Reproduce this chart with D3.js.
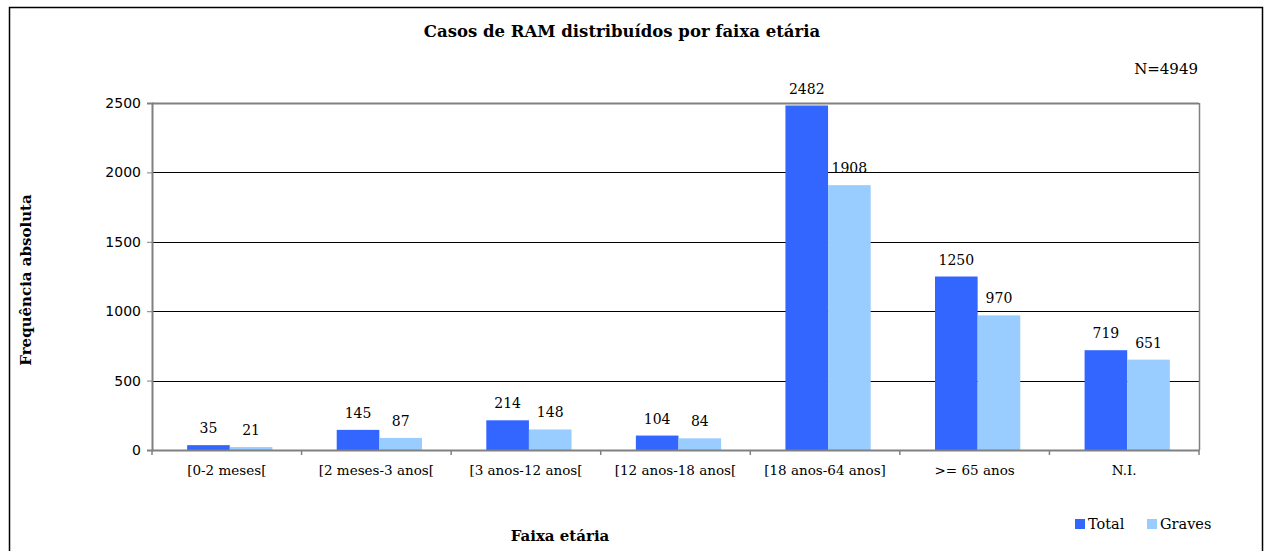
<!DOCTYPE html>
<html>
<head>
<meta charset="utf-8">
<script src="https://cdn.jsdelivr.net/npm/d3@7"></script>
<style>
  body { margin: 0; background: #fff; }
  svg text { font-family: "DejaVu Serif", "Liberation Serif", serif; fill: #000; }
</style>
</head>
<body>
<svg id="chart" width="1273" height="551"></svg>
<script>
// Faixas etárias e valores
const categories = ["[0-2 meses[", "[2 meses-3 anos[", "[3 anos-12 anos[", "[12 anos-18 anos[", "[18 anos-64 anos]", ">= 65 anos", "N.I."];
const totalValues = [35, 145, 214, 104, 2482, 1250, 719];
const gravesValues = [21, 87, 148, 84, 1908, 970, 651];
const seriesNames = ["Total", "Graves"];
const yTicks = [0, 500, 1000, 1500, 2000, 2500];

const colors = { Total: "#3366ff", Graves: "#99ccff" };

const svg = d3.select("#chart");
const margin = { top: 103, left: 152, right: 74, bottom: 101 };
const width = 1273 - margin.left - margin.right;
const height = 551 - margin.top - margin.bottom;

// outer frame
svg.append("rect")
   .attr("x", 9.5).attr("y", 7.5)
   .attr("width", 1253).attr("height", 560)
   .attr("fill", "none").attr("stroke", "#000").attr("stroke-width", 1.5);

const g = svg.append("g").attr("transform", "translate(" + margin.left + "," + margin.top + ")");

const x0 = d3.scaleBand().domain(categories).range([0, width]).paddingInner(0).paddingOuter(0);
const x1 = d3.scaleBand().domain(seriesNames).range([x0.bandwidth() * 0.235, x0.bandwidth() * 0.805]);
const y = d3.scaleLinear().domain([0, 2500]).range([height, 0]);

// gridlines
g.selectAll(".grid")
   .data(yTicks.filter(d => d > 0))
   .enter()
   .append("line")
   .attr("x1", 0).attr("x2", width)
   .attr("y1", d => Math.round(y(d)) + 0.5).attr("y2", d => Math.round(y(d)) + 0.5)
   .attr("stroke", d => d === 2500 ? "#808080" : "#000")
   .attr("stroke-width", d => d === 2500 ? 2 : 1);

// right border of plot
g.append("line")
   .attr("x1", width + 0.5).attr("x2", width + 0.5)
   .attr("y1", 0).attr("y2", height)
   .attr("stroke", "#808080").attr("stroke-width", 1.5);

// bars
const rows = categories.map((c, i) => ({ cat: c, values: [
   { key: "Total", value: totalValues[i] },
   { key: "Graves", value: gravesValues[i] }
]}));

const groups = g.selectAll(".group")
   .data(rows)
   .enter()
   .append("g")
   .attr("transform", d => "translate(" + x0(d.cat) + ",0)");

groups.selectAll("rect")
   .data(d => d.values)
   .enter()
   .append("rect")
   .attr("x", d => x1(d.key))
   .attr("y", d => y(d.value))
   .attr("width", x1.bandwidth())
   .attr("height", d => height - y(d.value))
   .attr("fill", d => colors[d.key]);

groups.selectAll(".lbl")
   .data(d => d.values)
   .enter()
   .append("text")
   .attr("x", d => x1(d.key) + x1.bandwidth() / 2)
   .attr("y", d => y(d.value) - 12)
   .attr("text-anchor", "middle")
   .style("font-size", "14px")
   .text(d => d.value);

// y axis
const yAxis = g.append("g")
   .call(d3.axisLeft(y).tickValues(yTicks).tickFormat(d3.format("d")).tickSize(5).tickPadding(6));
yAxis.select(".domain").attr("stroke", "#808080").attr("stroke-width", 2);
yAxis.selectAll(".tick line").attr("stroke", "#808080");
yAxis.selectAll("text")
   .style("font-family", "'DejaVu Sans', Verdana, sans-serif")
   .style("font-size", "14px");

// x axis
const xAxis = g.append("g")
   .attr("transform", "translate(0," + height + ")")
   .call(d3.axisBottom(x0).tickSize(0).tickPadding(15));
xAxis.select(".domain").attr("stroke", "#808080").attr("stroke-width", 2);
xAxis.selectAll("text").style("font-size", "13.5px");
xAxis.selectAll(".sep")
   .data(d3.range(categories.length + 1))
   .enter()
   .append("line")
   .attr("x1", i => i * x0.bandwidth()).attr("x2", i => i * x0.bandwidth())
   .attr("y1", 0).attr("y2", 5)
   .attr("stroke", "#808080").attr("stroke-width", 1.5);

// title and labels
svg.append("text")
   .attr("x", 622).attr("y", 37)
   .attr("text-anchor", "middle")
   .style("font-size", "16.5px").style("font-weight", "bold")
   .text("Casos de RAM distribuídos por faixa etária");

svg.append("text")
   .attr("x", 1198).attr("y", 74)
   .attr("text-anchor", "end")
   .style("font-size", "15px")
   .text("N=4949");

svg.append("text")
   .attr("transform", "translate(31,280) rotate(-90)")
   .attr("text-anchor", "middle")
   .style("font-size", "15px").style("font-weight", "bold")
   .text("Frequência absoluta");

svg.append("text")
   .attr("x", 560).attr("y", 541)
   .attr("text-anchor", "middle")
   .style("font-size", "15px").style("font-weight", "bold")
   .text("Faixa etária");

// legend
const legend = svg.append("g").attr("transform", "translate(1075,519)");
const legendX = [0, 72];
seriesNames.forEach((name, i) => {
   legend.append("rect")
      .attr("x", legendX[i]).attr("y", 0)
      .attr("width", 10).attr("height", 10)
      .attr("fill", colors[name]);
   legend.append("text")
      .attr("x", legendX[i] + 13).attr("y", 10)
      .style("font-size", "14.5px")
      .text(name);
});
</script>
</body>
</html>
